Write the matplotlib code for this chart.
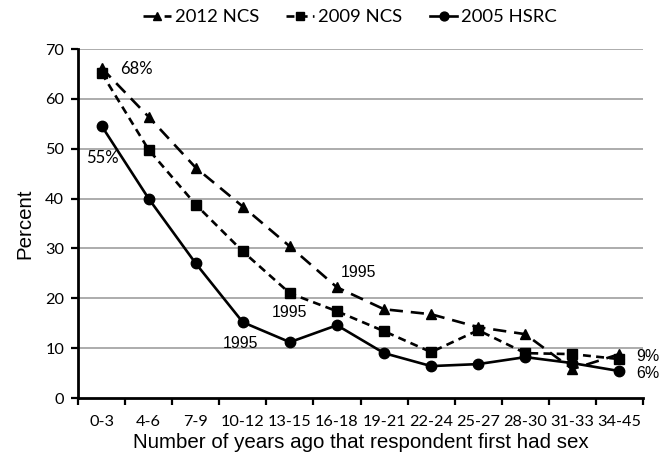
import numpy as np
import matplotlib.pyplot as plt

plt.rcParams['font.family'] = ['Liberation Sans', 'DejaVu Sans']

groups = ["0-3", "4-6", "7-9", "10-12", "13-15", "16-18", "19-21",
          "22-24", "25-27", "28-30", "31-33", "34-45"]
ncs2012 = [66.2, 56.4, 46.2, 38.4, 30.4, 22.2, 17.8, 16.8, 14.2, 12.8, 5.8, 8.8]
ncs2009 = [65.2, 49.8, 38.8, 29.4, 21.0, 17.4, 13.4, 9.2, 13.6, 9.0, 8.8, 7.8]
hsrc2005 = [54.6, 40.0, 27.0, 15.2, 11.2, 14.6, 9.0, 6.4, 6.8, 8.2, 7.0, 5.4]

x = np.arange(len(groups))
narrow = ['Lato', 'DejaVu Sans']

fig = plt.figure(figsize=(6.6, 4.65), dpi=100)
ax = fig.add_axes([78 / 660, 1 - 398 / 465, 565 / 660, 349 / 465])

# gridlines
for g in range(10, 80, 10):
    ax.axhline(g, color="#a6a6a6", linewidth=1.3, zorder=0)

ax.plot(x, ncs2012, color="black", linestyle=(0, (5, 3)), linewidth=1.9,
        marker="^", markersize=7.5, label="2012 NCS")
ax.plot(x, ncs2009, color="black", linestyle=(0, (3, 2)), linewidth=1.9,
        marker="s", markersize=7, label="2009 NCS")
ax.plot(x, hsrc2005, color="black", linestyle="-", linewidth=1.9,
        marker="o", markersize=7.5, label="2005 HSRC")

ax.set_xlim(-0.5, len(groups) - 0.5)
ax.set_ylim(0, 70)
ax.set_yticks(range(0, 80, 10))
ax.set_xticks(x)
ax.set_xticklabels(groups, fontsize=11.7, family=narrow)
for lbl in ax.get_yticklabels():
    lbl.set_family(narrow)
ax.set_xticks(np.arange(-0.5, len(groups), 1), minor=True)
ax.tick_params(axis="x", which="major", length=0, pad=12)
ax.tick_params(axis="x", which="minor", length=5, width=1.6, direction="out")
ax.tick_params(axis="y", labelsize=11.7, length=5, width=1.6, direction="out", pad=5)

for s in ["top", "right"]:
    ax.spines[s].set_visible(False)
ax.spines["left"].set_linewidth(2)
ax.spines["bottom"].set_linewidth(2)

ax.set_xlabel("Number of years ago that respondent first had sex", fontsize=14.8, labelpad=3)
ax.set_ylabel("Percent", fontsize=14.8, labelpad=8)

# annotations
ax.text(0.40, 66, "68%", fontsize=12, family=narrow, va="center")
ax.text(-0.32, 48.2, "55%", fontsize=12, family=narrow, va="center")
ax.text(5.07, 25.2, "1995", fontsize=11.4, va="center")
ax.text(3.61, 17.2, "1995", fontsize=11.4, va="center")
ax.text(2.57, 11.0, "1995", fontsize=11.4, va="center")
ax.text(11.36, 8.4, "9%", fontsize=11.5, va="center", clip_on=False)
ax.text(11.36, 5.0, "6%", fontsize=11.5, va="center", clip_on=False)

fig.legend(loc="center", bbox_to_anchor=(350 / 660, 1 - 17 / 465), ncol=3, frameon=False,
           prop={'family': narrow, 'size': 13.3}, handlelength=1.5, handletextpad=0.2,
           columnspacing=1.5, markerscale=0.85)

fig.savefig("out.png", dpi=100)
